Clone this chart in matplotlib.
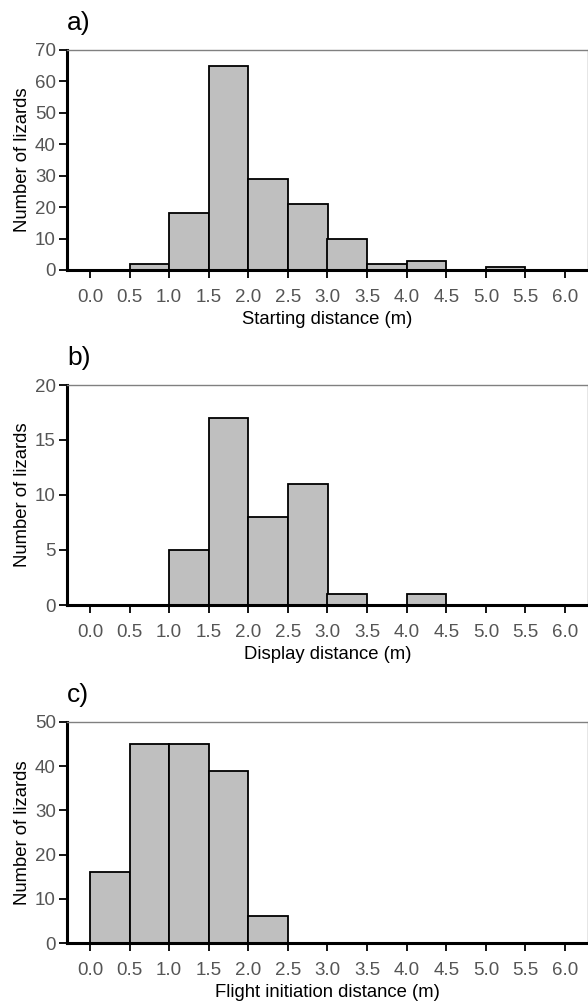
import numpy as np
import matplotlib
matplotlib.use("Agg")
import matplotlib.pyplot as plt

plt.rcParams['font.family'] = ['Liberation Sans', 'DejaVu Sans']

# bin left edges (m), bin width 0.5
bin_edges = [0.0, 0.5, 1.0, 1.5, 2.0, 2.5, 3.0, 3.5, 4.0, 4.5, 5.0, 5.5]

starting_counts = [0, 2, 18, 65, 29, 21, 10, 2, 3, 0, 1, 0]
display_counts = [0, 0, 5, 17, 8, 11, 1, 0, 1, 0, 0, 0]
flight_counts = [16, 45, 45, 39, 6, 0, 0, 0, 0, 0, 0, 0]

panel_letters = ['a)', 'b)', 'c)']
xlabels = ['Starting distance (m)', 'Display distance (m)', 'Flight initiation distance (m)']
ymaxes = [70, 20, 50]
ysteps = [10, 5, 10]
xticks = [0.0, 0.5, 1.0, 1.5, 2.0, 2.5, 3.0, 3.5, 4.0, 4.5, 5.0, 5.5, 6.0]

fig = plt.figure(figsize=(5.88, 10.01), dpi=100)
W, H = 588.0, 1001.0
# axes boxes in pixels: (left, top, right, bottom)
boxes = [(67, 50, 588, 270), (67, 385, 588, 605), (67, 722, 588, 943)]

for i, counts in enumerate([starting_counts, display_counts, flight_counts]):
    l, t, r, b = boxes[i]
    ax = fig.add_axes([l / W, 1 - b / H, (r - l) / W, (b - t) / H])
    ax.bar(bin_edges, counts, width=0.5, align='edge', color='#bfbfbf',
           edgecolor='black', linewidth=1.3, zorder=2)
    ax.set_xlim(-0.29, 6.29)
    ax.set_ylim(0, ymaxes[i])
    ax.set_yticks(np.arange(0, ymaxes[i] + 1, ysteps[i]))
    ax.set_xticks(xticks)
    ax.set_xticklabels(['%.1f' % v for v in xticks])
    for s in ['left', 'bottom']:
        ax.spines[s].set_linewidth(2.2)
        ax.spines[s].set_color('black')
    for s in ['top', 'right']:
        ax.spines[s].set_linewidth(1.0)
        ax.spines[s].set_color('#808080')
    ax.tick_params(axis='both', direction='out', length=6, width=1.3,
                   colors='black', labelcolor='#555555', labelsize=13.5)
    ax.tick_params(axis='x', pad=8)
    ax.tick_params(axis='y', pad=2)
    ax.set_xlabel(xlabels[i], fontsize=13.3, labelpad=3)
    ax.set_ylabel('Number of lizards', fontsize=13.3, labelpad=3)
    ax.text(0.0, 1.07, panel_letters[i], transform=ax.transAxes,
            fontsize=19, ha='left', va='bottom')

fig.savefig('out.png', dpi=100)
